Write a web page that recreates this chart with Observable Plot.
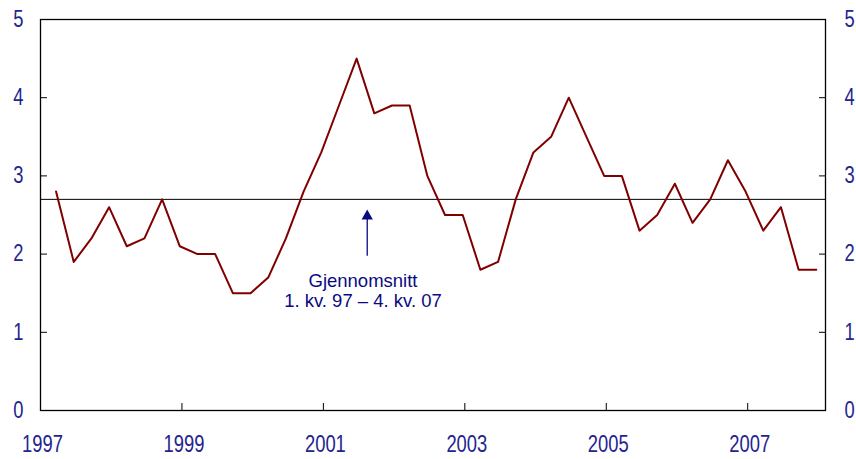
<!DOCTYPE html>
<html>
<head>
<meta charset="utf-8">
<script src="https://cdn.jsdelivr.net/npm/d3@7"></script>
<script src="https://cdn.jsdelivr.net/npm/@observablehq/plot@0.6"></script>
<style>
  html, body { margin: 0; padding: 0; background: #fff; }
  svg { display: block; }
</style>
</head>
<body>
<div id="chart"></div>
<script>
// Quarterly series, 1. kv. 1997 – 4. kv. 2007
const startYear = 1997;
const values = [
  2.8, 1.9, 2.2, 2.6,   // 1997
  2.1, 2.2, 2.7, 2.1,   // 1998
  2.0, 2.0, 1.5, 1.5,   // 1999
  1.7, 2.2, 2.8, 3.3,   // 2000
  3.9, 4.5, 3.8, 3.9,   // 2001
  3.9, 3.0, 2.5, 2.5,   // 2002
  1.8, 1.9, 2.7, 3.3,   // 2003
  3.5, 4.0, 3.5, 3.0,   // 2004
  3.0, 2.3, 2.5, 2.9,   // 2005
  2.4, 2.7, 3.2, 2.8,   // 2006
  2.3, 2.6, 1.8, 1.8    // 2007
];
const average = 2.7;
const xTicks = [1997, 1999, 2001, 2003, 2005, 2007];
const yTicks = [0, 1, 2, 3, 4, 5];
const annotationLines = ["Gjennomsnitt", "1. kv. 97 \u2013 4. kv. 07"];
const arrowPos = {x: 2001.62, yFrom: 1.98, yTo: 2.53};
const labelPos = {x: 2001.56, y: 1.77};

// Position each quarter on a decimal-year time axis
const series = values.map((v, i) => ({
  t: startYear + Math.floor(i / 4) + (i % 4) / 4 + 0.22,
  v
}));

const tickColor = "#24248f";
const textColor = "#0a0a80";
const labelFont = "'Liberation Sans', Arial, sans-serif";

const chart = Plot.plot({
  width: 856,
  height: 459,
  marginLeft: 40,
  marginRight: 31,
  marginTop: 19,
  marginBottom: 49,
  style: {fontFamily: "'Liberation Sans', Arial, sans-serif", background: "#fff"},
  x: {domain: [1997, 2008.1]},
  y: {domain: [0, 5]},
  marks: [
    Plot.ruleY([average], {stroke: "black", strokeWidth: 1}),
    Plot.lineY(series, {x: "t", y: "v", stroke: "#800000", strokeWidth: 2}),
    // inward tick marks
    Plot.axisX({ticks: xTicks, tickSize: -7, tickFormat: () => "", stroke: "black"}),
    Plot.axisY({ticks: yTicks, anchor: "left", tickSize: -7, tickFormat: () => "", stroke: "black"}),
    Plot.axisY({ticks: yTicks, anchor: "right", tickSize: -7, tickFormat: () => "", stroke: "black"}),
    // labels
    Plot.axisX({ticks: xTicks, tickSize: 0, tickPadding: 25, dx: 2, tickFormat: d => String(d),
      fill: tickColor, fontSize: 23, fontFamily: labelFont, className: "narrow"}),
    Plot.axisY({ticks: yTicks, anchor: "left", tickSize: 0, tickPadding: 17, tickFormat: d => String(d),
      fill: tickColor, fontSize: 23, fontFamily: labelFont, className: "narrow"}),
    Plot.axisY({ticks: yTicks, anchor: "right", tickSize: 0, tickPadding: 19, tickFormat: d => String(d),
      fill: tickColor, fontSize: 23, fontFamily: labelFont, className: "narrow"}),
    Plot.frame({stroke: "black", strokeWidth: 1.3}),
    // annotation arrow
    Plot.link([arrowPos], {x1: "x", x2: "x", y1: "yFrom", y2: "yTo", stroke: textColor, strokeWidth: 1.3}),
    Plot.dot([arrowPos], {x: "x", y: "yTo", symbol: "triangle", r: 4.2, fill: textColor, stroke: "none", dy: 3.5}),
    Plot.text([labelPos], {x: "x", y: "y", text: () => annotationLines.join("\n"), lineAnchor: "top",
      lineHeight: 1.1, fontSize: 18.5, fill: textColor})
  ]
});
document.getElementById("chart").appendChild(chart);

// Condense the tick labels (the reference uses a narrow face)
d3.select(chart).selectAll("text").each(function () {
  const t = this.textContent;
  if (/^\d+$/.test(t) && this.closest("g[font-size='23']")) {
    const w = this.getComputedTextLength();
    if (w > 0) {
      this.setAttribute("textLength", (w * 0.8).toFixed(1));
      this.setAttribute("lengthAdjust", "spacingAndGlyphs");
    }
  }
});
</script>
</body>
</html>
